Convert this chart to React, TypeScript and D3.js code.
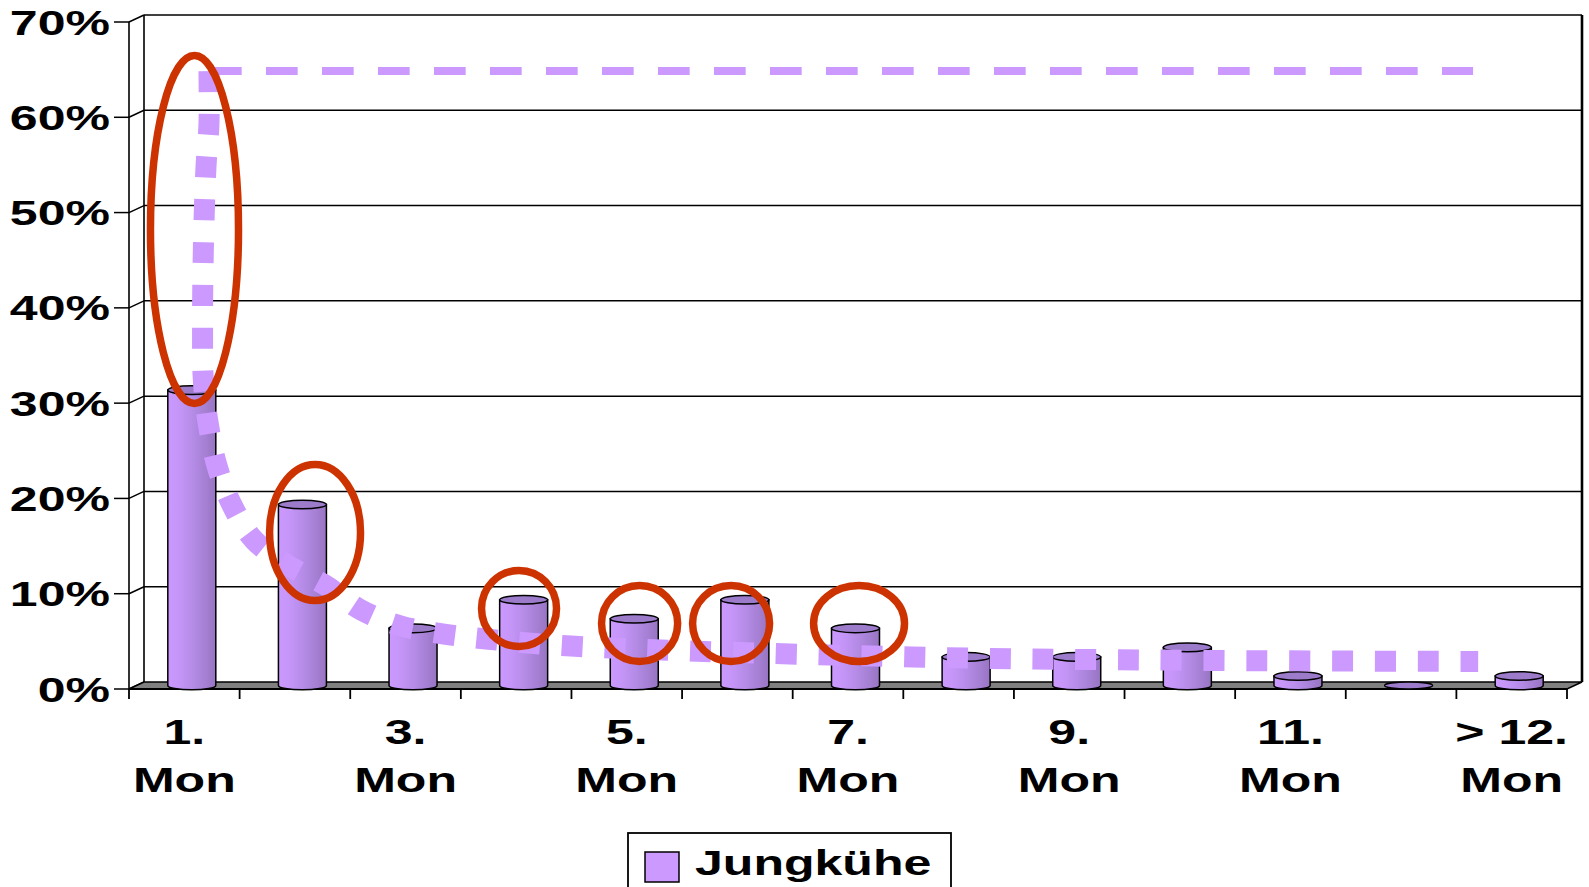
import React from "react";
import * as d3 from "d3";

const categories = ["1. Mon","2. Mon","3. Mon","4. Mon","5. Mon","6. Mon","7. Mon","8. Mon","9. Mon","10. Mon","11. Mon","12. Mon","> 12. Mon"];
const labelLines: (string[] | null)[] = [["1.","Mon"],null,["3.","Mon"],null,["5.","Mon"],null,["7.","Mon"],null,["9.","Mon"],null,["11.","Mon"],null,["> 12.","Mon"]];
const jungkuehe = [31, 19, 6, 9, 7, 9, 6, 3, 3, 4, 1, 0, 1];
const yTicks = [0, 10, 20, 30, 40, 50, 60, 70];
const seriesName = "Jungkühe";

// annotation: dotted trend curve (category position, percent)
const trendCurve: [number, number][] = [
  [0.723, 64.85],[0.723, 59.29],[0.696, 54.78],[0.672, 46.07],[0.665, 37.67],[0.672, 32.43],
  [0.714, 28.02],[0.796, 23.4],[0.931, 19.31],[1.13, 15.64],[1.465, 12.8],[1.772, 10.91],
  [2.098, 8.29],[2.459, 6.61],[2.848, 5.77],[3.228, 5.25],[3.996, 4.51],[7.08, 3.36],
  [9.231, 3.04],[12.197, 2.89]
];
// annotation: dashed reference line (from, to, level)
const refLine = { from: 0.732, to: 12.151, level: 64.85 };
// annotation: red ellipses [cx, cy, rx, ry] in (category position, percent)
const highlight: [number, number, number, number][] = [
  [0.592, 48.22, 0.398, 18.26],
  [1.682, 16.42, 0.411, 7.14],
  [3.526, 8.45, 0.339, 3.99],
  [4.616, 6.87, 0.344, 3.99],
  [5.443, 6.87, 0.348, 3.99],
  [6.6, 6.87, 0.411, 3.99],
];

const W = 1589, H = 887;
const X0 = 129, X1 = 1567, Y0 = 689, Y1 = 22;
const DX = 15, DY = -7;
const FONT = "'Liberation Sans', Arial, Helvetica, sans-serif";
const SX = 1.41;
const FS = 35.5;

export default function App() {
  const y = d3.scaleLinear().domain([0, 70]).range([Y0, Y1]);
  const xb = d3.scaleBand<string>().domain(categories).range([X0, X1]);
  const xp = d3.scaleLinear().domain([0, categories.length]).range([X0, X1]);
  const bw = xb.bandwidth();
  const barHalf = 24;
  const ery = 4.3;

  const line = d3.line<[number, number]>()
    .x((d) => xp(d[0]))
    .y((d) => y(d[1]))
    .curve(d3.curveCatmullRom.alpha(0.5));

  const baseY = y(0) + DY / 2;

  return (
    <svg width={W} height={H} style={{ position: "absolute", left: 0, top: 0, background: "#fff" }}>
      <defs>
        <linearGradient id="cyl" x1="0" x2="1" y1="0" y2="0">
          <stop offset="0" stopColor="#CC99FF" />
          <stop offset="0.25" stopColor="#C495F7" />
          <stop offset="0.5" stopColor="#B68CE8" />
          <stop offset="0.8" stopColor="#A47FD2" />
          <stop offset="1" stopColor="#9874C3" />
        </linearGradient>
      </defs>
      <rect x={0} y={0} width={W} height={H} fill="#fff" />
      {/* side wall front edge and back wall edges */}
      <line x1={X0} y1={y(70)} x2={X0} y2={y(0)} stroke="#000" strokeWidth={1.6} />
      <line x1={X0 + DX} y1={y(70) + DY} x2={X0 + DX} y2={y(0) + DY} stroke="#000" strokeWidth={1.6} />
      <line x1={X1 + DX} y1={y(70) + DY} x2={X1 + DX} y2={y(0) + DY} stroke="#000" strokeWidth={2.6} />
      {/* gridlines and y ticks */}
      {yTicks.map((t) => (
        <g key={t}>
          {t > 0 && <line x1={X0 + DX} x2={X1 + DX} y1={y(t) + DY} y2={y(t) + DY} stroke="#000" strokeWidth={1.5} />}
          <line x1={X0 - 15} x2={X0} y1={y(t)} y2={y(t)} stroke="#000" strokeWidth={1.5} />
          <line x1={X0} x2={X0 + DX} y1={y(t)} y2={y(t) + DY} stroke="#000" strokeWidth={1.5} />
          <text transform={`translate(${X0 - 19},${y(t) + 12.5}) scale(${SX},1)`} textAnchor="end"
            fontFamily={FONT} fontWeight="bold" fontSize={FS} fill="#000">{t}%</text>
        </g>
      ))}
      {/* floor */}
      <polygon points={`${X0},${Y0} ${X1},${Y0} ${X1 + DX},${Y0 + DY} ${X0 + DX},${Y0 + DY}`}
        fill="#808080" stroke="#000" strokeWidth={1.5} />
      {/* x ticks */}
      {d3.range(categories.length + 1).map((i) => (
        <line key={i} x1={xp(i)} x2={xp(i)} y1={Y0} y2={Y0 + 10} stroke="#000" strokeWidth={1.8} />
      ))}
      <line x1={X0} x2={X1} y1={Y0} y2={Y0} stroke="#000" strokeWidth={2} />
      {/* x labels */}
      {categories.map((c, i) => {
        const ll = labelLines[i];
        if (!ll) return null;
        const cx = (xb(c) as number) + bw / 2;
        return (
          <g key={c}>
            {ll.map((s, k) => (
              <text key={k} transform={`translate(${cx},${744 + k * 48}) scale(${SX},1)`} textAnchor="middle"
                fontFamily={FONT} fontWeight="bold" fontSize={FS} fill="#000">{s}</text>
            ))}
          </g>
        );
      })}
      {/* cylinders */}
      {categories.map((c, i) => {
        const v = jungkuehe[i];
        const cx = (xb(c) as number) + bw / 2 + DX / 2;
        const top = y(v) + DY / 2;
        const l = cx - barHalf, r = cx + barHalf;
        if (v <= 0) {
          return <ellipse key={c} cx={cx} cy={baseY} rx={barHalf} ry={ery * 0.8} fill="#9C7BCB" stroke="#000" strokeWidth={1.4} />;
        }
        return (
          <g key={c}>
            <path d={`M${l},${top} L${l},${baseY} A${barHalf},${ery} 0 0 0 ${r},${baseY} L${r},${top} Z`}
              fill="url(#cyl)" stroke="#000" strokeWidth={1.5} />
            <ellipse cx={cx} cy={top} rx={barHalf} ry={ery} fill="#9C7BCB" stroke="#000" strokeWidth={1.5} />
          </g>
        );
      })}
      {/* annotations */}
      <line x1={xp(refLine.from)} x2={xp(refLine.to)} y1={y(refLine.level)} y2={y(refLine.level)}
        stroke="#CC99FF" strokeWidth={8} strokeDasharray="31.7 24.3" />
      <path d={line(trendCurve) as string} fill="none" stroke="#CC99FF" strokeWidth={21}
        strokeDasharray="21 21.8" strokeLinecap="butt" />
      {highlight.map((e, i) => (
        <ellipse key={i} cx={xp(e[0])} cy={y(e[1])} rx={xp(e[2]) - xp(0)} ry={y(0) - y(e[3])}
          fill="none" stroke="#CC3300" strokeWidth={7.5} />
      ))}
      {/* legend */}
      <rect x={628} y={833} width={323} height={80} fill="#fff" stroke="#000" strokeWidth={1.8} />
      <rect x={645} y={852} width={34} height={30} fill="#CC99FF" stroke="#000" strokeWidth={1.5} />
      <text transform={`translate(695,875) scale(${SX},1)`} fontFamily={FONT} fontWeight="bold" fontSize={FS} fill="#000">{seriesName}</text>
    </svg>
  );
}
